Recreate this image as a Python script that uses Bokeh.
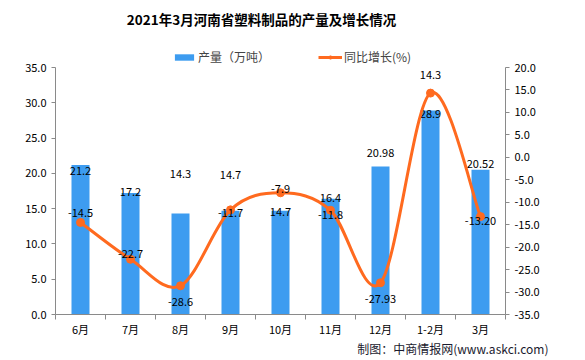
from bokeh.plotting import figure
from bokeh.models import (Range1d, LinearAxis, FixedTicker, PrintfTickFormatter,
                          Legend, LegendItem, Title, Label, ColumnDataSource)
from bokeh.core.properties import value
from bokeh.embed import file_html
from bokeh.resources import INLINE

# ---- data ----
categories = ["6月", "7月", "8月", "9月", "10月", "11月", "12月", "1-2月", "3月"]
output = [21.2, 17.2, 14.3, 14.7, 14.7, 16.4, 20.98, 28.9, 20.52]
output_labels = ["21.2", "17.2", "14.3", "14.7", "14.7", "16.4", "20.98", "28.9", "20.52"]
growth = [-14.5, -22.7, -28.6, -11.7, -7.9, -11.8, -27.93, 14.3, -13.20]
growth_labels = ["-14.5", "-22.7", "-28.6", "-11.7", "-7.9", "-11.8", "-27.93", "14.3", "-13.20"]
left_ticks = [0, 5, 10, 15, 20, 25, 30, 35]
right_ticks = [-35, -30, -25, -20, -15, -10, -5, 0, 5, 10, 15, 20]
title_text = "2021年3月河南省塑料制品的产量及增长情况"
source_text = "制图：中商情报网(www.askci.com)"

# label nudges (screen px, positive = down) as placed in the original
bar_label_dy = [6, -1, -40, -36, 1, -1, -13, 3, -6]
line_label_dy = [-9, -5, 16, 3, -4, 5, 16, -18, 4]

FONT = "Noto Sans CJK SC"
BAR = "#3d9cf0"
ORANGE = "#ff6a1f"
AXIS = "#8a8a8a"

W, H = 585, 360
LEFT, RIGHT, TOP, BOTTOM = 55, 80, 0, 46
AXIS_PX = 247          # pixel height of the axis span (0..35 / -35..20)
EXTRA_PX = (H - TOP - BOTTOM) - AXIS_PX   # room above axes for title + legend

lmin, lmax = left_ticks[0], left_ticks[-1]
rmin, rmax = right_ticks[0], right_ticks[-1]
ltop = lmax + (lmax - lmin) * EXTRA_PX / AXIS_PX
rtop = rmax + (rmax - rmin) * EXTRA_PX / AXIS_PX

n = len(categories)
xc = [i + 0.5 for i in range(n)]

p = figure(width=W, height=H, x_range=Range1d(0, n), y_range=Range1d(lmin, ltop),
           output_backend="svg", toolbar_location=None,
           min_border_left=LEFT, min_border_right=RIGHT, min_border_top=TOP,
           min_border_bottom=BOTTOM)
p.extra_y_ranges = {"right": Range1d(rmin, rtop)}
p.outline_line_color = None
p.xgrid.visible = False
p.ygrid.visible = False

# title, drawn in the strip above the axes
p.add_layout(Label(x=n / 2, y=lmin, x_units="data", y_units="data",
                   x_offset=-19, y_offset=AXIS_PX + EXTRA_PX - 18,
                   text=title_text, text_align="center", text_baseline="middle",
                   text_font=FONT, text_font_size="13.5px", text_font_style="bold",
                   text_color="#000000"))

# bars
bsrc = ColumnDataSource(dict(x=xc, top=output, lab=output_labels, dy=bar_label_dy))
bars = p.vbar(x="x", top="top", width=0.36, source=bsrc, fill_color=BAR, line_color=None)
p.text(x="x", y="top", text="lab", source=bsrc, y_offset="dy", text_align="center",
       text_baseline="middle", text_font=value(FONT), text_font_size="11px", text_color="#000000")

# smooth line through growth values (Catmull-Rom rendered as bezier segments)
pts = list(zip(xc, growth))
x0, y0, x1, y1, cx0, cy0, cx1, cy1 = [], [], [], [], [], [], [], []
for i in range(n - 1):
    pa = pts[i - 1] if i > 0 else pts[i]
    pb = pts[i]
    pc = pts[i + 1]
    pd = pts[i + 2] if i + 2 < n else pts[i + 1]
    x0.append(pb[0]); y0.append(pb[1]); x1.append(pc[0]); y1.append(pc[1])
    cx0.append(pb[0] + (pc[0] - pa[0]) / 6); cy0.append(pb[1] + (pc[1] - pa[1]) / 6)
    cx1.append(pc[0] - (pd[0] - pb[0]) / 6); cy1.append(pc[1] - (pd[1] - pb[1]) / 6)
curve = p.bezier(x0=x0, y0=y0, x1=x1, y1=y1, cx0=cx0, cy0=cy0, cx1=cx1, cy1=cy1,
                 line_color=ORANGE, line_width=3, y_range_name="right")
lsrc = ColumnDataSource(dict(x=xc, y=growth, lab=growth_labels, dy=line_label_dy))
dots = p.scatter(x="x", y="y", source=lsrc, size=8, fill_color=ORANGE, line_color=ORANGE,
                 y_range_name="right")
p.text(x="x", y="y", text="lab", source=lsrc, y_offset="dy", text_align="center",
       text_baseline="middle", text_font=value(FONT), text_font_size="11px",
       text_color="#000000", y_range_name="right")

# axes
def style_axis(ax):
    ax.axis_line_color = AXIS
    ax.major_tick_line_color = AXIS
    ax.minor_tick_line_color = AXIS
    ax.major_label_text_font = FONT
    ax.major_label_text_font_size = "11px"
    ax.major_label_text_color = "#000000"

xa = p.xaxis[0]
xa.ticker = FixedTicker(ticks=xc, minor_ticks=list(range(n + 1)))
xa.major_label_overrides = {x: c for x, c in zip(xc, categories)}
xa.major_tick_out = 0
xa.major_tick_in = 0
xa.minor_tick_out = 5
xa.minor_tick_in = 0
style_axis(xa)
xa.major_label_standoff = 1

ya = p.yaxis[0]
ya.ticker = FixedTicker(ticks=left_ticks)
ya.formatter = PrintfTickFormatter(format="%.1f")
ya.bounds = (lmin, lmax)
ya.major_tick_out = 4
ya.major_tick_in = 0
ya.minor_tick_line_color = None
style_axis(ya)

ra = LinearAxis(y_range_name="right", ticker=FixedTicker(ticks=right_ticks),
                formatter=PrintfTickFormatter(format="%.1f"), bounds=(rmin, rmax))
ra.major_tick_out = 4
ra.major_tick_in = 0
style_axis(ra)
ra.minor_tick_line_color = None
p.add_layout(ra, "right")

# legend (strip above the axes)
legend = Legend(items=[LegendItem(label="产量（万吨）", renderers=[bars]),
                       LegendItem(label="同比增长(%)", renderers=[curve, dots])],
                orientation="horizontal", location=(117, AXIS_PX + 2))
legend.label_text_font = FONT
legend.label_text_font_size = "12px"
legend.glyph_width = 24
legend.glyph_height = 8
legend.label_standoff = 2
legend.spacing = 48
legend.padding = 0
legend.margin = 0
legend.border_line_color = None
legend.background_fill_alpha = 0
p.add_layout(legend)

# source note
note = Title(text=source_text, align="right", offset=-43, vertical_align="top",
             text_font=FONT, text_font_size="12px", text_font_style="normal",
             text_color="#1a1a2e", standoff=0)
p.add_layout(note, "below")

open("out.html", "w").write(file_html(p, INLINE))
